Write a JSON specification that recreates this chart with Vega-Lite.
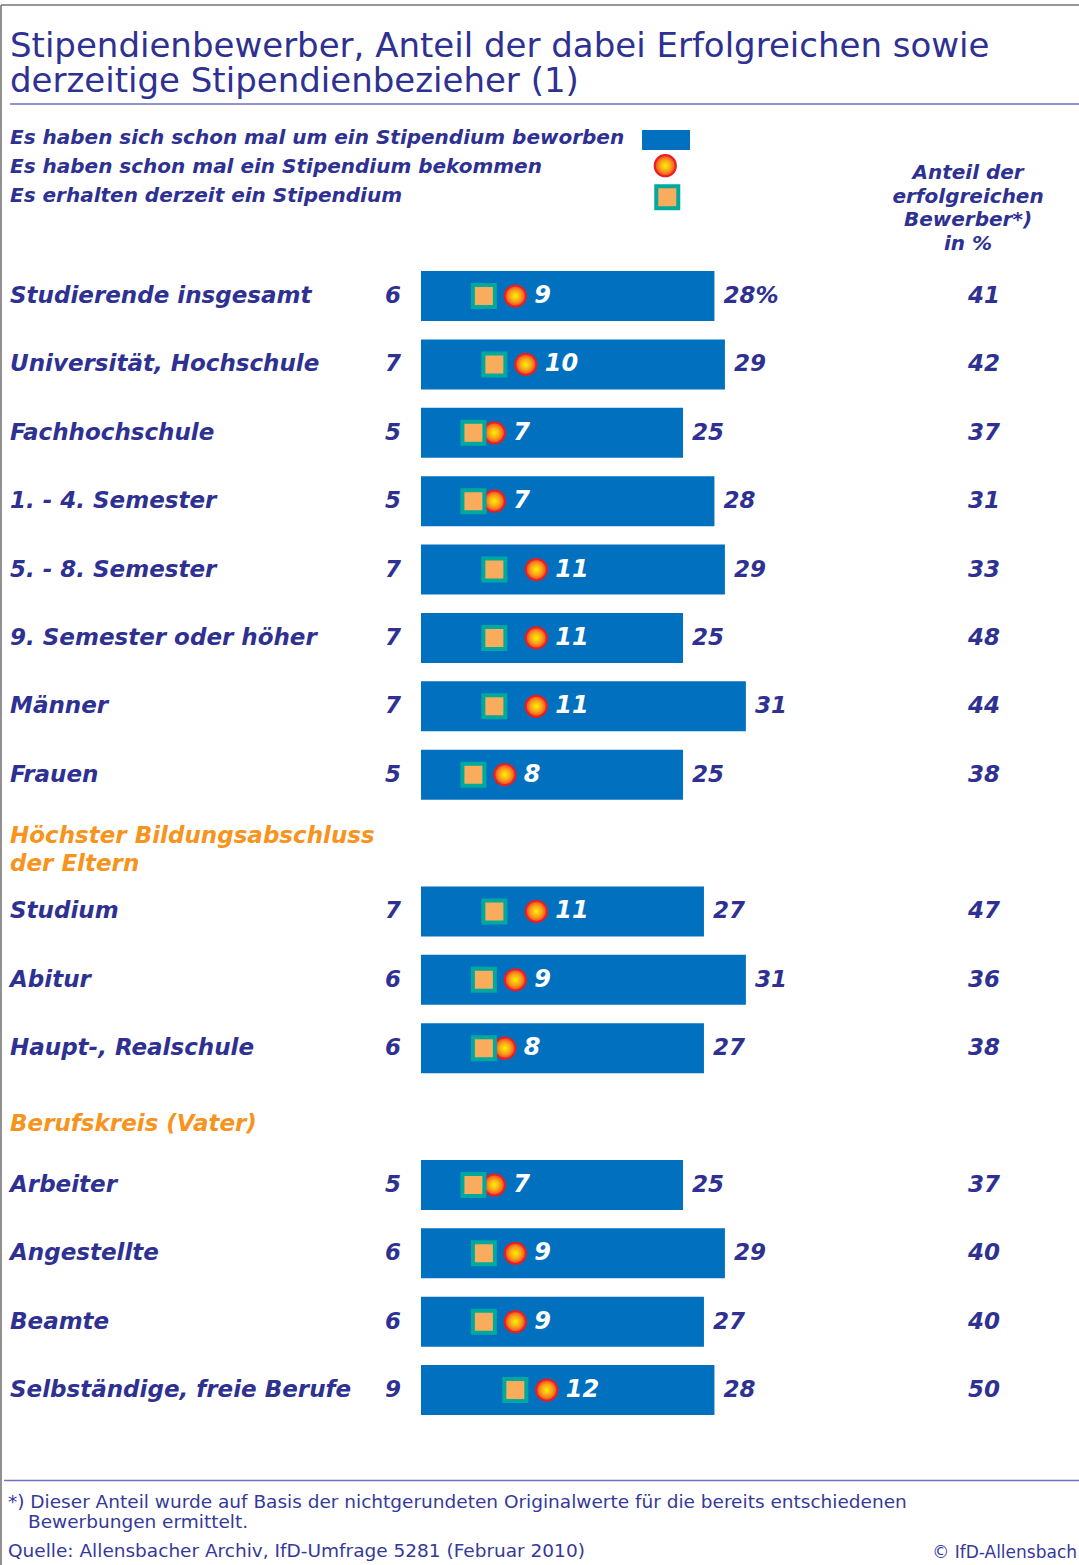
{
  "$schema": "https://vega.github.io/schema/vega-lite/v6.json",
  "width": 1078,
  "height": 1560,
  "autosize": {"type": "none"},
  "padding": {"left": 1, "top": 5, "right": 0, "bottom": 0},
  "background": "white",
  "config": {
    "view": {"stroke": "#767676", "strokeWidth": 1.6, "strokeDash": [1078, 2638, 1560, 0]},
    "font": "DejaVu Sans",
    "text": {"font": "DejaVu Sans", "baseline": "middle"}
  },
  "datasets": {
    "rows": [
      {"row": "Studierende insgesamt", "applied": 28, "received": 9, "current": 6, "success": 41},
      {"row": "Universität, Hochschule", "applied": 29, "received": 10, "current": 7, "success": 42},
      {"row": "Fachhochschule", "applied": 25, "received": 7, "current": 5, "success": 37},
      {"row": "1. - 4. Semester", "applied": 28, "received": 7, "current": 5, "success": 31},
      {"row": "5. - 8. Semester", "applied": 29, "received": 11, "current": 7, "success": 33},
      {"row": "9. Semester oder höher", "applied": 25, "received": 11, "current": 7, "success": 48},
      {"row": "Männer", "applied": 31, "received": 11, "current": 7, "success": 44},
      {"row": "Frauen", "applied": 25, "received": 8, "current": 5, "success": 38},
      {"row": "Studium", "applied": 27, "received": 11, "current": 7, "success": 47},
      {"row": "Abitur", "applied": 31, "received": 9, "current": 6, "success": 36},
      {"row": "Haupt-, Realschule", "applied": 27, "received": 8, "current": 6, "success": 38},
      {"row": "Arbeiter", "applied": 25, "received": 7, "current": 5, "success": 37},
      {"row": "Angestellte", "applied": 29, "received": 9, "current": 6, "success": 40},
      {"row": "Beamte", "applied": 27, "received": 9, "current": 6, "success": 40},
      {"row": "Selbständige, freie Berufe", "applied": 28, "received": 12, "current": 9, "success": 50}
    ],
    "notes": [
      {"row": "_t", "kind": "title", "text": ["Stipendienbewerber, Anteil der dabei Erfolgreichen sowie", "derzeitige Stipendienbezieher (1)"]},
      {"row": "_l", "kind": "legend", "text": ["Es haben sich schon mal um ein Stipendium beworben", "Es haben schon mal ein Stipendium bekommen", "Es erhalten derzeit ein Stipendium"]},
      {"row": "_h", "kind": "header", "text": ["Anteil der", "erfolgreichen", "Bewerber*)", "in %"]},
      {"row": "_g1", "kind": "group1", "text": ["Höchster Bildungsabschluss", "der Eltern"]},
      {"row": "_g2", "kind": "group2", "text": "Berufskreis (Vater)"},
      {"row": "_f", "kind": "footnote1", "text": "*) Dieser Anteil wurde auf Basis der nichtgerundeten Originalwerte für die bereits entschiedenen"},
      {"row": "_f", "kind": "footnote2", "text": "Bewerbungen ermittelt."},
      {"row": "_f", "kind": "source", "text": "Quelle: Allensbacher Archiv, IfD-Umfrage 5281 (Februar 2010)"},
      {"row": "_f", "kind": "copyright", "text": "© IfD-Allensbach"},
      {"row": "_t", "kind": "ruletop"},
      {"row": "_f", "kind": "rulebottom"}
    ]
  },
  "data": {"name": "rows"},
  "encoding": {
    "y": {
      "field": "row",
      "type": "nominal",
      "axis": null,
      "sort": null,
      "scale": {
        "domain": ["_t", "_l", "_h", "Studierende insgesamt", "Universität, Hochschule", "Fachhochschule", "1. - 4. Semester", "5. - 8. Semester", "9. Semester oder höher", "Männer", "Frauen", "_g1", "Studium", "Abitur", "Haupt-, Realschule", "_g2", "Arbeiter", "Angestellte", "Beamte", "Selbständige, freie Berufe", "_f"],
        "range": [51.69, 1487.6],
        "paddingInner": 0.2687,
        "paddingOuter": 0.13435
      }
    }
  },
  "layer": [
    {
      "mark": {"type": "bar", "color": "#0070bf"},
      "encoding": {
        "x": {"field": "applied", "type": "quantitative", "axis": null, "scale": {"domain": [-40.0763, 62.7863], "nice": false, "zero": false}},
        "x2": {"datum": 0}
      }
    },
    {
      "mark": {"type": "point", "shape": "circle", "size": 452, "filled": true, "opacity": 1,
        "fill": {"gradient": "radial", "stops": [{"offset": 0, "color": "#fff200"}, {"offset": 0.55, "color": "#f9a01b"}, {"offset": 1, "color": "#ee3a24"}]},
        "stroke": "#ed1c24", "strokeWidth": 2},
      "encoding": {"x": {"field": "received", "type": "quantitative"}}
    },
    {
      "mark": {"type": "square", "size": 484, "fill": "#f9ad5c", "stroke": "#00a99d", "strokeWidth": 4, "opacity": 1},
      "encoding": {"x": {"field": "current", "type": "quantitative"}}
    },
    {
      "mark": {"type": "text", "align": "left", "dx": 9, "fontSize": 23, "fontWeight": "bold", "fontStyle": "italic", "color": "#2e3192"},
      "encoding": {"x": {"datum": -40.0763}, "text": {"field": "row"}}
    },
    {
      "mark": {"type": "text", "align": "right", "dx": -20, "fontSize": 23, "fontWeight": "bold", "fontStyle": "italic", "color": "#2e3192"},
      "encoding": {"x": {"datum": 0}, "text": {"field": "current"}}
    },
    {
      "mark": {"type": "text", "align": "left", "dx": 19, "fontSize": 24, "fontWeight": "bold", "fontStyle": "italic", "color": "#ffffff"},
      "encoding": {"x": {"field": "received", "type": "quantitative"}, "text": {"field": "received"}}
    },
    {
      "transform": [{"calculate": "datum.row === 'Studierende insgesamt' ? datum.applied + '%' : '' + datum.applied", "as": "applied_label"}],
      "mark": {"type": "text", "align": "left", "dx": 9, "fontSize": 23, "fontWeight": "bold", "fontStyle": "italic", "color": "#2e3192"},
      "encoding": {"x": {"field": "applied", "type": "quantitative"}, "text": {"field": "applied_label"}}
    },
    {
      "mark": {"type": "text", "align": "center", "fontSize": 23, "fontWeight": "bold", "fontStyle": "italic", "color": "#2e3192"},
      "encoding": {"x": {"datum": 53.72}, "text": {"field": "success"}}
    },
    {
      "data": {"name": "notes"},
      "transform": [{"filter": "datum.kind === 'title'"}],
      "mark": {"type": "text", "align": "left", "dx": 9, "dy": -43.9, "fontSize": 34, "lineHeight": 35, "color": "#2e3192"},
      "encoding": {"x": {"datum": -40.0763}, "text": {"field": "text"}}
    },
    {
      "data": {"name": "notes"},
      "transform": [{"filter": "datum.kind === 'ruletop'"}],
      "mark": {"type": "rule", "yOffset": 13.1, "color": "#6f72c2", "strokeWidth": 1.5},
      "encoding": {"x": {"datum": -39.218}, "x2": {"datum": 62.7863}}
    },
    {
      "data": {"name": "notes"},
      "transform": [{"filter": "datum.kind === 'rulebottom'"}],
      "mark": {"type": "rule", "yOffset": 22.1, "color": "#6f72c2", "strokeWidth": 1.5},
      "encoding": {"x": {"datum": -39.79}, "x2": {"datum": 62.7863}}
    },
    {
      "data": {"name": "notes"},
      "transform": [{"filter": "datum.kind === 'legend'"}],
      "mark": {"type": "text", "align": "left", "dx": 9, "dy": -21.25, "fontSize": 20, "lineHeight": 29, "fontWeight": "bold", "fontStyle": "italic", "color": "#2e3192"},
      "encoding": {"x": {"datum": -40.0763}, "text": {"field": "text"}}
    },
    {
      "data": {"name": "notes"},
      "transform": [{"filter": "datum.kind === 'legend'"}],
      "mark": {"type": "bar", "height": 20, "yOffset": -19.25, "color": "#0070bf"},
      "encoding": {"x": {"datum": 21.09}, "x2": {"datum": 25.67}}
    },
    {
      "data": {"name": "notes"},
      "transform": [{"filter": "datum.kind === 'legend'"}],
      "mark": {"type": "point", "shape": "circle", "size": 452, "filled": true, "opacity": 1, "yOffset": 6.45,
        "fill": {"gradient": "radial", "stops": [{"offset": 0, "color": "#fff200"}, {"offset": 0.55, "color": "#f9a01b"}, {"offset": 1, "color": "#ee3a24"}]},
        "stroke": "#ed1c24", "strokeWidth": 2},
      "encoding": {"x": {"datum": 23.31}}
    },
    {
      "data": {"name": "notes"},
      "transform": [{"filter": "datum.kind === 'legend'"}],
      "mark": {"type": "square", "size": 484, "yOffset": 38.05, "fill": "#f9ad5c", "stroke": "#00a99d", "strokeWidth": 4, "opacity": 1},
      "encoding": {"x": {"datum": 23.5}}
    },
    {
      "data": {"name": "notes"},
      "transform": [{"filter": "datum.kind === 'header'"}],
      "mark": {"type": "text", "align": "center", "dy": -54.3, "fontSize": 20, "lineHeight": 23.4, "fontWeight": "bold", "fontStyle": "italic", "color": "#2e3192"},
      "encoding": {"x": {"datum": 52.2}, "text": {"field": "text"}}
    },
    {
      "data": {"name": "notes"},
      "transform": [{"filter": "datum.kind === 'group1'"}],
      "mark": {"type": "text", "align": "left", "dx": 9, "dy": -7, "fontSize": 23, "lineHeight": 28, "fontWeight": "bold", "fontStyle": "italic", "color": "#f7941d"},
      "encoding": {"x": {"datum": -40.0763}, "text": {"field": "text"}}
    },
    {
      "data": {"name": "notes"},
      "transform": [{"filter": "datum.kind === 'group2'"}],
      "mark": {"type": "text", "align": "left", "dx": 9, "dy": 7.5, "fontSize": 23, "fontWeight": "bold", "fontStyle": "italic", "color": "#f7941d"},
      "encoding": {"x": {"datum": -40.0763}, "text": {"field": "text"}}
    },
    {
      "data": {"name": "notes"},
      "transform": [{"filter": "datum.kind === 'footnote1'"}],
      "mark": {"type": "text", "align": "left", "dx": 7, "dy": 43.6, "fontSize": 18.5, "color": "#35399a"},
      "encoding": {"x": {"datum": -40.0763}, "text": {"field": "text"}}
    },
    {
      "data": {"name": "notes"},
      "transform": [{"filter": "datum.kind === 'footnote2'"}],
      "mark": {"type": "text", "align": "left", "dx": 27, "dy": 63.6, "fontSize": 18.5, "color": "#35399a"},
      "encoding": {"x": {"datum": -40.0763}, "text": {"field": "text"}}
    },
    {
      "data": {"name": "notes"},
      "transform": [{"filter": "datum.kind === 'source'"}],
      "mark": {"type": "text", "align": "left", "dx": 7, "dy": 92.6, "fontSize": 18.5, "color": "#35399a"},
      "encoding": {"x": {"datum": -40.0763}, "text": {"field": "text"}}
    },
    {
      "data": {"name": "notes"},
      "transform": [{"filter": "datum.kind === 'copyright'"}],
      "mark": {"type": "text", "align": "right", "dx": -2, "dy": 94.6, "fontSize": 17, "color": "#35399a"},
      "encoding": {"x": {"datum": 62.7863}, "text": {"field": "text"}}
    }
  ]
}
